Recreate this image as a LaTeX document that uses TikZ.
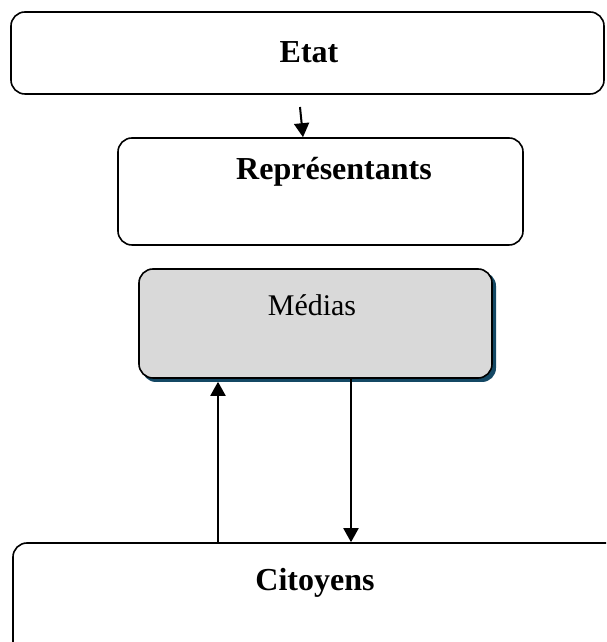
\documentclass[tikz,border=0pt]{standalone}
\usepackage{fontspec}
\setmainfont{Liberation Serif}
\usetikzlibrary{arrows.meta,calc}

\definecolor{boxgray}{RGB}{217,217,217}
\definecolor{shadowblue}{RGB}{20,72,100}

\tikzset{
  panel/.style={draw=black, line width=1.6pt, rounded corners=14pt, inner sep=0pt},
  label/.style={font=\fontsize{32}{36}\selectfont\bfseries, inner sep=0pt},
  plainlabel/.style={font=\fontsize{30}{34}\selectfont, inner sep=0pt},
  arr/.style={line width=2pt, -{Triangle[length=14pt 0 0,width=15pt 0 0]}}
}

\begin{document}
\begin{tikzpicture}[x=1pt,y=1pt]
  \useasboundingbox (0,0) rectangle (606,642);
  \begin{scope}
    \clip (0,0) rectangle (606,642);

    % Etat
    \node[panel, minimum width=593pt, minimum height=82pt] (etat) at (307.5,589) {};
    \node[label] (etatT) at (309,590) {Etat};

    % Représentants
    \node[panel, minimum width=405pt, minimum height=107pt] (rep) at (320.5,450.5) {};
    \node[label] (repT) at (334,470) {Représentants};

    % Médias, with its offset shadow
    \fill[shadowblue, rounded corners=14pt] (142,260) rectangle (496,370);
    \node[panel, fill=boxgray, minimum width=353pt, minimum height=109pt] (med) at (315.5,318.5) {};
    \node[plainlabel] (medT) at (312,337) {Médias};

    % Citoyens (runs past the lower and right edges)
    \node[panel, minimum width=607pt, minimum height=140pt] (cit) at (316.5,29) {};
    \node[label] (citT) at (315,59) {Citoyens};
  \end{scope}

  % Connectors
  \coordinate (a1) at (300,535);
  \draw[arr] (a1) -- (303,0 |- rep.north);
  \draw[arr] (218,0 |- cit.north) -- ($(218,0 |- med.south)+(0,-3)$);
  \draw[arr] (351,0 |- med.south) -- (351,0 |- cit.north);
\end{tikzpicture}
\end{document}
